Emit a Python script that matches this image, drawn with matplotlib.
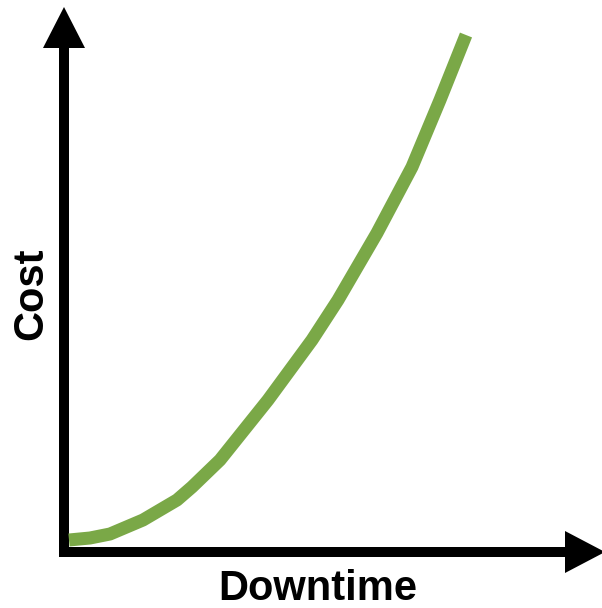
import matplotlib
matplotlib.use("Agg")
import matplotlib.pyplot as plt
from matplotlib.patches import FancyArrow

# Cost vs downtime (arbitrary units, origin at axis corner)
downtime = [5, 26, 46, 79, 113, 128, 156, 204, 248, 274, 313, 348, 376, 402]
cost = [12, 14, 18, 32, 52, 65, 92, 152, 212, 252, 319, 385, 452, 517]

x_label = "Downtime"
y_label = "Cost"

LINE_COLOR = "#7aa847"
DPI = 100
W, H = 602, 608
ORIGIN = (64, 552)  # pixel position of axis corner

fig = plt.figure(figsize=(W / DPI, H / DPI), dpi=DPI)
ax = fig.add_axes([0, 0, 1, 1])
ax.set_xlim(-ORIGIN[0], W - ORIGIN[0])
ax.set_ylim(-(H - ORIGIN[1]), ORIGIN[1])
ax.axis("off")

# axis arrows
ax.add_patch(FancyArrow(0, -5, 0, ORIGIN[1] - 7 + 5, width=10, head_width=42,
                        head_length=41, length_includes_head=True,
                        color="black", lw=0))
ax.add_patch(FancyArrow(-5, 0, W - ORIGIN[0] + 3 + 5, 0, width=10, head_width=42,
                        head_length=40, length_includes_head=True,
                        color="black", lw=0))

ax.plot(downtime, cost, color=LINE_COLOR, lw=13 * 72 / DPI,
        solid_capstyle="butt", solid_joinstyle="round")

font = dict(family="Liberation Sans", weight="bold", size=30)
ax.text(318 - ORIGIN[0], ORIGIN[1] - 600, x_label, ha="center", va="baseline", **font)
ax.text(31 - ORIGIN[0], ORIGIN[1] - 294, y_label, ha="center", va="center",
        rotation=90, **font)

fig.savefig("out.png", dpi=DPI)
